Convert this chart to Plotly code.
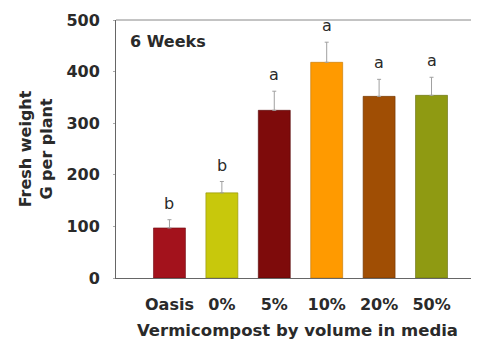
import plotly.graph_objects as go

categories = ["Oasis", "0%", "5%", "10%", "20%", "50%"]
fresh_weight = [97, 165, 325, 418, 352, 354]
error_up = [16, 22, 37, 39, 33, 35]
letters = ["b", "b", "a", "a", "a", "a"]
colors = ["#A3121C", "#C8C80C", "#7E0B0B", "#FF9A00", "#A04E04", "#8F9A12"]
line_colors = ["#6E0A10", "#8F8F08", "#520606", "#C07400", "#6E3502", "#656D0C"]

FONT = "DejaVu Sans, Verdana, sans-serif"
TXT = "#2a2a2a"

fig = go.Figure()
fig.add_trace(go.Bar(
    x=categories,
    y=fresh_weight,
    width=0.61,
    marker=dict(color=colors, line=dict(color=line_colors, width=0.6)),
    error_y=dict(type="data", array=error_up, arrayminus=[0]*len(error_up),
                 symmetric=False, color="#a0a0a0", thickness=1, width=2),
    showlegend=False,
))

annotations = []
for c, v, e, l in zip(categories, fresh_weight, error_up, letters):
    annotations.append(dict(x=c, y=v + e, text=l, showarrow=False,
                            yanchor="bottom", yshift=5,
                            font=dict(family=FONT, size=16, color=TXT)))
annotations.append(dict(xref="paper", yref="paper", x=0.033, y=0.915,
                        xanchor="left", yanchor="middle", text="6 Weeks",
                        showarrow=False,
                        font=dict(family=FONT, size=16, color=TXT, weight="bold")))

fig.update_layout(
    width=471, height=339,
    margin=dict(l=108, r=0, t=12, b=69),
    plot_bgcolor="white", paper_bgcolor="white",
    annotations=annotations,
    font=dict(family=FONT, color=TXT),
    xaxis=dict(
        range=[-1.02, 5.906],
        showline=True, linecolor="#666", linewidth=1,
        ticks="", ticklabelstandoff=12,
        tickfont=dict(family=FONT, size=16, color=TXT, weight="bold"),
        title=dict(text="Vermicompost by volume in media", standoff=11,
                   font=dict(family=FONT, size=16.5, color=TXT, weight="bold")),
        showgrid=False, zeroline=False,
    ),
    yaxis=dict(
        range=[0, 500], tickvals=[0, 100, 200, 300, 400, 500],
        showline=True, linecolor="#666", linewidth=1,
        ticks="outside", ticklen=2, tickcolor="#aaa",
        ticklabelstandoff=10,
        tickfont=dict(family=FONT, size=16, color=TXT, weight="bold"),
        title=dict(text="Fresh weight<br>G per plant", standoff=9,
                   font=dict(family=FONT, size=16, color=TXT, weight="bold")),
        showgrid=False, zeroline=False,
    ),
    shapes=[dict(type="line", xref="paper", yref="paper", x0=0, x1=1, y0=1, y1=1,
                 line=dict(color="#888", width=1))],
)

fig.write_html("out.html")
